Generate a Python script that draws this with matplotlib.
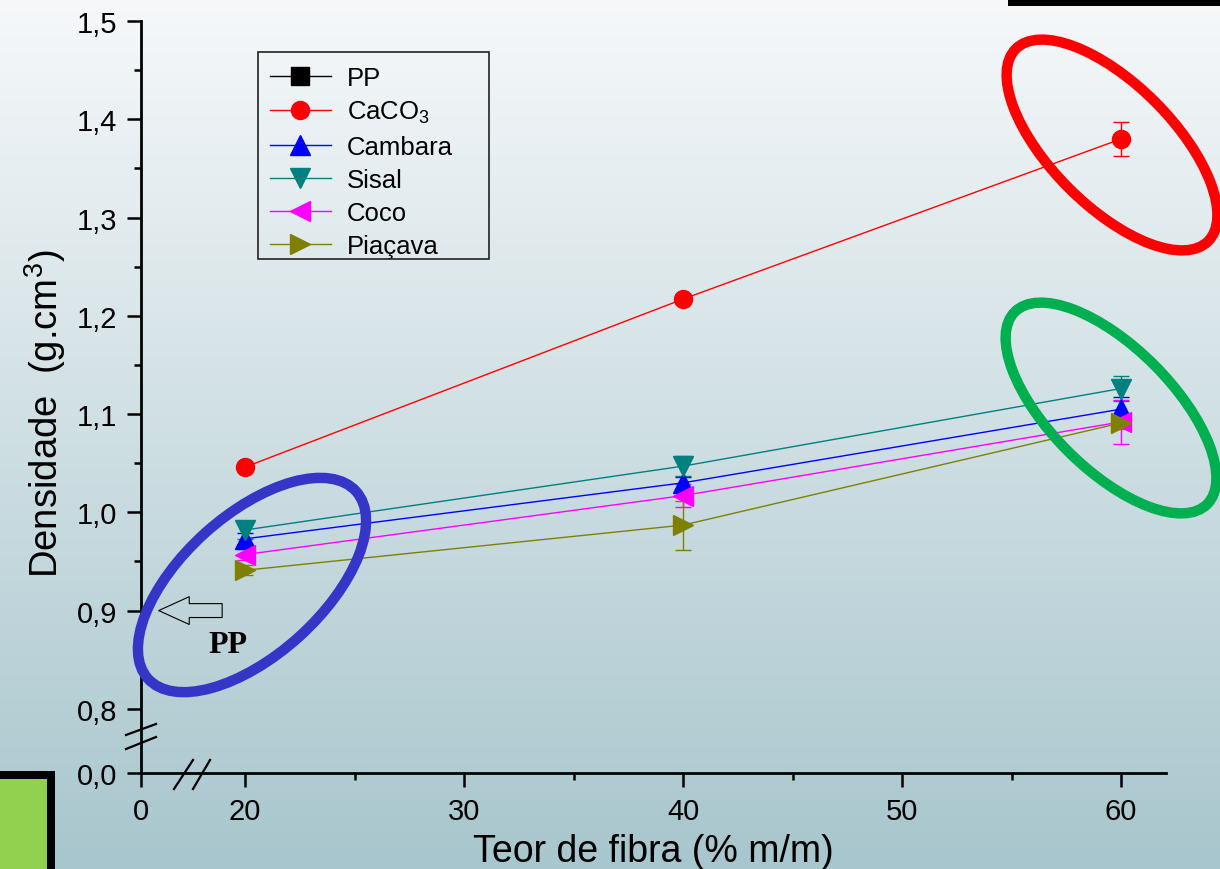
import numpy as np
import matplotlib
matplotlib.use("Agg")
import matplotlib.pyplot as plt
from matplotlib.patches import Ellipse, Rectangle
from matplotlib.lines import Line2D
from matplotlib.transforms import IdentityTransform
from matplotlib.ticker import FuncFormatter, FixedLocator

plt.rcParams["font.family"] = ["Liberation Sans", "DejaVu Sans"]
plt.rcParams["mathtext.fontset"] = "custom"
plt.rcParams["mathtext.rm"] = "Liberation Sans"

# Data
teor = [20, 40, 60]
pp_density = 0.90

series_names = ["CaCO$_3$", "Cambara", "Sisal", "Coco", "Piaçava"]
caco3 = [1.046, 1.217, 1.380]
cambara = [0.973, 1.030, 1.105]
sisal = [0.982, 1.047, 1.126]
coco = [0.957, 1.017, 1.092]
piacava = [0.941, 0.987, 1.091]

caco3_err = [0.004, 0.004, 0.017]
cambara_err = [0.006, 0.006, 0.012]
sisal_err = [0.009, 0.010, 0.013]
coco_err = [0.006, 0.012, 0.022]
piacava_err = [0.005, 0.025, 0.006]

W, H = 1220, 870


def px(x, y):
	"""Image pixel (origin top-left) -> display pixel."""
	return x, H - y


# Broken axes: compressed 0-20 on x and 0-0.8 on y
def fx(x):
	x = np.asarray(x, dtype=float)
	return np.where(x < 20, x * 4.75 / 20, x - 15.25)


def ix(u):
	u = np.asarray(u, dtype=float)
	return np.where(u < 4.75, u * 20 / 4.75, u + 15.25)


def fy(y):
	y = np.asarray(y, dtype=float)
	return np.where(y < 0.8, y * 0.0653 / 0.8, y - 0.7347)


def iy(u):
	u = np.asarray(u, dtype=float)
	return np.where(u < 0.0653, u * 0.8 / 0.0653, u + 0.7347)


fig = plt.figure(figsize=(W / 100, H / 100), dpi=100)

# Background gradient
bg = fig.add_axes([0, 0, 1, 1], zorder=-5)
top = np.array([246, 248, 250]) / 255
bottom = np.array([168, 198, 205]) / 255
t = np.linspace(0, 1, 256)[:, None]
grad = (top[None, :] * (1 - t) + bottom[None, :] * t)[:, None, :]
bg.imshow(grad, aspect="auto", extent=[0, 1, 0, 1])
bg.axis("off")

ax = fig.add_axes([141 / W, 1 - 774 / H, (1166 - 141) / W, (774 - 22) / H])
ax.set_facecolor("none")
ax.set_xscale("function", functions=(fx, ix))
ax.set_yscale("function", functions=(fy, iy))
ax.set_xlim(0, 62.05)
ax.set_ylim(0, 1.5)

handles = [Line2D([], [], color="black", marker="s", lw=1.0, ms=13, label="PP")]

styles = [
	(caco3, caco3_err, "#ff0000", "o"),
	(cambara, cambara_err, "#0000ff", "^"),
	(sisal, sisal_err, "#008080", "v"),
	(coco, coco_err, "#ff00ff", "<"),
	(piacava, piacava_err, "#808000", ">"),
]
for name, (vals, errs, col, mk) in zip(series_names, styles):
	ms = 13 if mk == "o" else 14
	ax.errorbar(teor, vals, yerr=errs, color=col, marker=mk, ms=ms,
				lw=1.0, elinewidth=1.0, capsize=5.5, capthick=1.0)
	handles.append(Line2D([], [], color=col, marker=mk, ms=ms, lw=1.0, label=name))

ax.spines["top"].set_visible(False)
ax.spines["right"].set_visible(False)
ax.spines["left"].set_linewidth(2.0)
ax.spines["bottom"].set_linewidth(2.0)

ax.xaxis.set_major_locator(FixedLocator([0, 20, 30, 40, 50, 60]))
ax.xaxis.set_minor_locator(FixedLocator([25, 35, 45, 55]))
ax.yaxis.set_major_locator(FixedLocator([0.0, 0.8, 0.9, 1.0, 1.1, 1.2, 1.3, 1.4, 1.5]))
ax.yaxis.set_minor_locator(FixedLocator([0.85, 0.95, 1.05, 1.15, 1.25, 1.35, 1.45]))
ax.xaxis.set_major_formatter(FuncFormatter(lambda v, p: f"{v:.0f}"))
ax.yaxis.set_major_formatter(FuncFormatter(lambda v, p: f"{v:.1f}".replace(".", ",")))
ax.xaxis.set_minor_formatter(FuncFormatter(lambda v, p: ""))
ax.yaxis.set_minor_formatter(FuncFormatter(lambda v, p: ""))
ax.tick_params(which="major", direction="out", length=10, width=1.8, labelsize=21, pad=7)
ax.tick_params(which="minor", direction="out", length=5, width=1.8)

ax.set_xlabel("Teor de fibra (% m/m)", fontsize=27, labelpad=6)
ax.set_ylabel("Densidade  (g.cm$^3$)", fontsize=27.5)
ax.yaxis.set_label_coords((68 - 141) / 1025, (774 - 414) / 752)

# Legend with a hand-drawn frame so its box matches the original size
leg = ax.legend(handles=handles, loc="upper left", bbox_to_anchor=(258 / W, 1 - 55 / H),
				bbox_transform=fig.transFigure, borderaxespad=0, fontsize=18.5,
				handlelength=2.4, handletextpad=0.6, labelspacing=0.36,
				borderpad=0.45, frameon=False)
idt = IdentityTransform()
fig.add_artist(Rectangle(px(258, 260), 231, 207, fill=False, ec="#222222", lw=1.2,
						 transform=idt))

# Hollow arrow pointing at the PP density on the y axis
ax.annotate("", xy=(3.4, pp_density), xytext=(15.6, pp_density),
			arrowprops=dict(arrowstyle="simple,head_length=1.1,head_width=1.0,tail_width=0.5",
							fc="none", ec="black", lw=0.8, shrinkA=0, shrinkB=0,
							mutation_scale=20))
fig.text(228 / W, 1 - 646 / H, "PP", fontsize=23, fontweight="bold",
		 family="Liberation Serif", ha="center", va="center")

# Axis break marks
for (x0, y0, x1, y1) in [(126, 736, 156, 725), (126, 750, 156, 738),
						 (174, 790, 193, 761), (193, 790, 210, 761)]:
	a, b = px(x0, y0)
	c, d = px(x1, y1)
	fig.add_artist(Line2D([a, c], [b, d], color="black", lw=1.6, transform=idt))

# Highlight ellipses
for (cx, cy, w, h, ang, col, lw) in [(1112, 146, 272, 122, -45, "#ff0000", 7.5),
									 (1111, 409, 272, 122, -45, "#00b050", 7.5),
									 (252, 586, 280, 140, 42, "#3535c8", 7.5)]:
	fig.add_artist(Ellipse(px(cx, cy), w, h, angle=ang, fill=False, ec=col,
						   lw=lw, transform=idt, zorder=10))

# Slide decorations
fig.add_artist(Rectangle(px(1008, 7), 212, 7, fc="black", ec="none", transform=idt, zorder=11))
fig.add_artist(Rectangle(px(0, 870), 55, 98, fc="black", ec="none", transform=idt, zorder=11))
fig.add_artist(Rectangle(px(0, 870), 47, 90, fc="#92d050", ec="none", transform=idt, zorder=12))

fig.savefig("out.png", dpi=100)
